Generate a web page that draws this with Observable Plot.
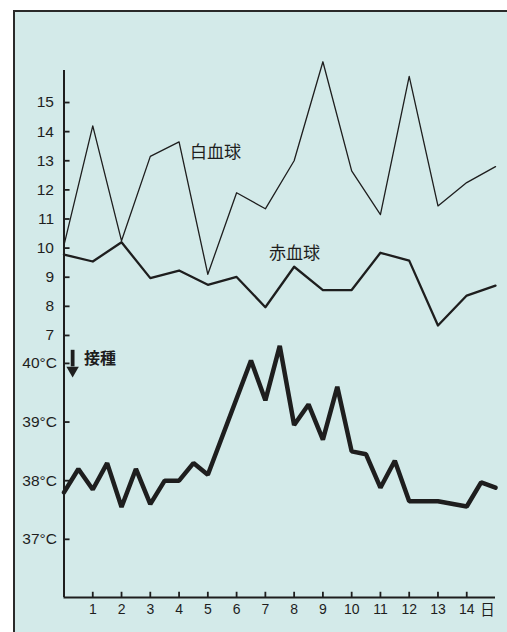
<!DOCTYPE html>
<html><head><meta charset="utf-8">
<script src="https://cdn.jsdelivr.net/npm/d3@7"></script>
<script src="https://cdn.jsdelivr.net/npm/@observablehq/plot@0.6"></script>
<style>
body{margin:0;background:#fff;}
#wrap{position:relative;width:507px;height:632px;overflow:hidden;}
#frame{position:absolute;left:13px;top:10px;width:600px;height:700px;border-left:2px solid #2a2a2a;border-top:2px solid #2a2a2a;background:#d3eae9;}
#chart{position:absolute;left:0;top:0;}
</style></head><body>
<div id="wrap"><div id="frame"></div><div id="chart"></div></div>
<script>
// Days (blood counts, sampled once per day)
const days = [0,1,2,3,4,5,6,7,8,9,10,11,12,13,14,15];
// 白血球 (white blood cells, thousands)
const wbc = [10.1,14.2,10.25,13.15,13.65,9.1,11.9,11.35,13.0,16.4,12.65,11.15,15.9,11.45,12.25,12.8];
// 赤血球 (red blood cells)
const rbc = [9.78,9.54,10.2,8.97,9.23,8.74,9.01,7.97,9.36,8.56,8.56,9.84,9.57,7.34,8.37,8.71];
// Body temperature (measured twice a day)
const tempDays = [0,0.5,1,1.5,2,2.5,3,3.5,4,4.5,5,6.5,7,7.5,8,8.5,9,9.5,10,10.5,11,11.5,12,12.5,13,14,14.5,15];
const temps = [37.8,38.2,37.85,38.3,37.55,38.2,37.6,38.0,38.0,38.3,38.1,40.05,39.37,40.3,38.95,39.3,38.7,39.6,38.5,38.45,37.88,38.34,37.65,37.65,37.65,37.56,37.97,37.88];
// Tick labels
const bloodTicks = [7,8,9,10,11,12,13,14,15];
const tempTicks = [37,38,39,40];
const dayTicks = [1,2,3,4,5,6,7,8,9,10,11,12,13,14];
const dayUnit = "日";
const seriesLabels = ["白血球","赤血球"];
const injectLabel = "接種";

// Temperature shares the vertical axis with the blood scale
const tempToV = t => 6.04 + (t - 40) * 2.014;

const blood = days.map((d,i)=>({day:d, wbc:wbc[i], rbc:rbc[i]}));
const temp = tempDays.map((d,i)=>({day:d, t:temps[i]}));
const ink = "#1e1e1e";
const cjk = "'Noto Sans CJK JP', sans-serif";

const plot = Plot.plot({
  width:507, height:632,
  marginLeft:63.5, marginRight:12, marginTop:70, marginBottom:35,
  x:{domain:[0,15], axis:null},
  y:{domain:[-2,16.1], axis:null},
  style:{background:"transparent", fontFamily:"'Liberation Sans', Arial, sans-serif", color:ink},
  marks:[
    Plot.ruleX([0], {y1:-2, y2:16.1, stroke:ink, strokeWidth:2}),
    Plot.ruleY([-2], {x1:0, x2:15, stroke:ink, strokeWidth:2}),
    Plot.ruleY(bloodTicks, {y:d=>d, x1:0, x2:0.21, stroke:ink, strokeWidth:1.8}),
    Plot.ruleY(tempTicks, {y:d=>tempToV(d), x1:0, x2:0.21, stroke:ink, strokeWidth:1.8}),
    Plot.ruleX(dayTicks, {x:d=>d, y1:-2, y2:-1.82, stroke:ink, strokeWidth:1.8}),
    Plot.text(bloodTicks, {x:0, y:d=>d, text:d=>String(d), textAnchor:"end", dx:-10, fontSize:15.5, fill:ink}),
    Plot.text(tempTicks, {x:0, y:d=>tempToV(d), text:d=>d+"°C", textAnchor:"end", dx:-7, fontSize:15.5, fill:ink}),
    Plot.text(dayTicks, {x:d=>d, y:-2, text:d=>String(d), dy:12.5, fontSize:14, fill:ink}),
    Plot.text([dayUnit], {x:15, y:-2, text:d=>d, dx:-8, dy:12.5, fontSize:14.5, fontFamily:cjk, fill:ink}),
    Plot.line(blood, {x:"day", y:"wbc", stroke:ink, strokeWidth:1.3}),
    Plot.line(blood, {x:"day", y:"rbc", stroke:ink, strokeWidth:2.3}),
    Plot.line(temp, {x:"day", y:d=>tempToV(d.t), stroke:ink, strokeWidth:4.5, strokeLinejoin:"miter"}),
    Plot.text([seriesLabels[0]], {x:5.27, y:13.29, text:d=>d, fontSize:17, fontFamily:cjk, fill:ink}),
    Plot.text([seriesLabels[1]], {x:8.01, y:9.8, text:d=>d, fontSize:17, fontFamily:cjk, fill:ink}),
    Plot.ruleX([0.3], {x:d=>d, y1:6.49, y2:5.92, stroke:ink, strokeWidth:3.8}),
    Plot.dot([0.3], {x:d=>d, y:5.80, symbol:"triangle", rotate:180, r:4.6, fill:ink, stroke:null}),
    Plot.text([injectLabel], {x:1.25, y:6.18, text:d=>d, fontSize:16, fontWeight:"bold", fontFamily:cjk, fill:ink})
  ]
});
document.getElementById("chart").appendChild(plot);
</script>
</body></html>
